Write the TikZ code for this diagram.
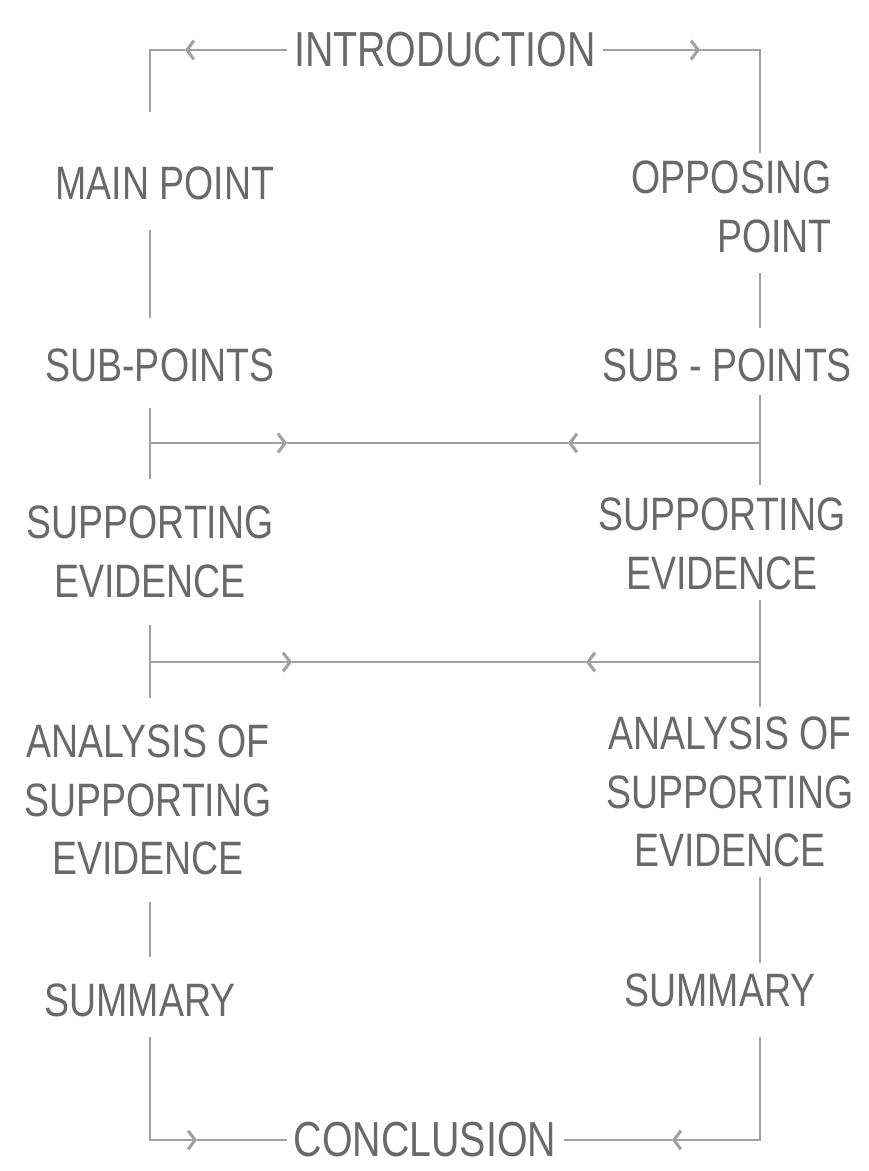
\documentclass[tikz,border=0pt]{standalone}
\usepackage{fontspec}
\usepackage{tikz}
\usetikzlibrary{arrows.meta}
\newfontfamily\handfont{Liberation Sans}[FakeStretch=0.8]

\begin{document}
\begin{tikzpicture}[x=0.03cm, y=-0.03cm,
  label/.style={font=\handfont\fontsize{40}{50}\selectfont, text=inkgray, inner sep=0pt, align=center},
  title/.style={font=\handfont\fontsize{42}{50}\selectfont, text=inkgray, inner sep=6pt},
  link/.style={draw=linegray, line width=2.2pt},
  tip/.style={-{Straight Barb[length=6pt,width=16pt,line width=2.6pt]}},
  stem/.style={link, shorten <=#1, shorten >=#1}]
  % Define colors
  \definecolor{inkgray}{RGB}{105,105,105}
  \definecolor{linegray}{RGB}{160,160,160}

  \useasboundingbox (0,0) rectangle (869,1171);

  % Columns and corners
  \coordinate (colL) at (150,0);
  \coordinate (colR) at (760,0);
  \coordinate (tl) at (150,50);
  \coordinate (tr) at (760,50);
  \coordinate (bl) at (150,1140);
  \coordinate (br) at (760,1140);
  \coordinate (tlEnd) at (150,112);

  % Top and bottom
  \node[title] (intro) at (445,50) {INTRODUCTION};
  \node[title] (concl) at (425,1140) {CONCLUSION};

  % Left column
  \node[label] (mainpt) at (165,183) {MAIN POINT};
  \node[label] (subL) at (160,365) {SUB-POINTS};
  \node[label] (evidL) at (150,552) {SUPPORTING\\EVIDENCE};
  \node[label] (analL) at (148,800) {ANALYSIS OF\\SUPPORTING\\EVIDENCE};
  \node[label] (sumL) at (140,1000) {SUMMARY};

  % Right column
  \node[label, align=right, anchor=east] (opppt) at (832,207) {OPPOSING\\POINT};
  \node[label] (subR) at (727,365) {SUB - POINTS};
  \node[label] (evidR) at (722,544) {SUPPORTING\\EVIDENCE};
  \node[label] (analR) at (730,792) {ANALYSIS OF\\SUPPORTING\\EVIDENCE};
  \node[label] (sumR) at (720,990) {SUMMARY};

  % Arrow tips on the long lines
  \coordinate (tipTL) at (185,50);
  \coordinate (tipTR) at (700,50);
  \coordinate (tipBL) at (197,1140);
  \coordinate (tipBR) at (672,1140);
  \coordinate (r1L) at (150,443);
  \coordinate (r1R) at (760,443);
  \coordinate (r1a) at (287,443);
  \coordinate (r1b) at (568,443);
  \coordinate (r2L) at (150,662);
  \coordinate (r2R) at (760,662);
  \coordinate (r2a) at (292,662);
  \coordinate (r2b) at (586,662);

  % Introduction to both sides
  \draw[link, tip] (intro.west) -- (tipTL);
  \draw[link] (tipTL) -- (tl) -- (tlEnd);
  \draw[link, tip] (intro.east) -- (tipTR);
  \draw[link, shorten >=0.25cm] (tipTR) -- (tr) -- (opppt.north -| colR);

  % Left stems
  \draw[stem=0.9cm] (mainpt.south -| colL) -- (subL.north -| colL);
  \draw[stem=0.8cm] (subL.south -| colL) -- (evidL.north -| colL);
  \draw[stem=0.8cm] (evidL.south -| colL) -- (analL.north -| colL);
  \draw[stem=0.8cm] (analL.south -| colL) -- (sumL.north -| colL);

  % Right stems
  \draw[stem=0.6cm] (opppt.south -| colR) -- (subR.north -| colR);
  \draw[stem=0.4cm] (subR.south -| colR) -- (evidR.north -| colR);
  \draw[stem=0.3cm] (evidR.south -| colR) -- (analR.north -| colR);
  \draw[stem=0.3cm] (analR.south -| colR) -- (sumR.north -| colR);

  % Cross links
  \draw[link, tip] (r1L) -- (r1a);
  \draw[link] (r1a) -- (r1b);
  \draw[link, tip] (r1R) -- (r1b);
  \draw[link, tip] (r2L) -- (r2a);
  \draw[link] (r2a) -- (r2b);
  \draw[link, tip] (r2R) -- (r2b);

  % Both sides to conclusion
  \draw[link, tip, shorten <=0.6cm] (sumL.south -| colL) -- (bl) -- (tipBL);
  \draw[link] (tipBL) -- (concl.west);
  \draw[link, tip, shorten <=0.9cm] (sumR.south -| colR) -- (br) -- (tipBR);
  \draw[link] (tipBR) -- (concl.east);
\end{tikzpicture}
\end{document}
